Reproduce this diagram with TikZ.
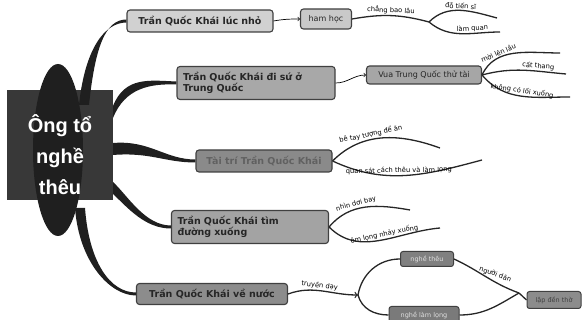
\documentclass[tikz,border=0pt]{standalone}
\usepackage{fontspec}
\setmainfont{DejaVu Sans}
\newfontfamily\titlefont{Liberation Sans}
\usetikzlibrary{positioning,calc,arrows}

% tapered main branch: start, control 1, control 2, end, half width at start, half width at end
\newcommand{\branch}[6]{%
  \fill[black!88] ($#1+#5$) .. controls ($#2+#5$) and ($#3+#6$) .. ($#4+#6$)
     -- ($#4-#6$) .. controls ($#3-#6$) and ($#2-#5$) .. ($#1-#5$) -- cycle;}

\begin{document}
\begin{tikzpicture}[x=1pt,y=1pt,>=to,
    main node/.style={draw=black!75,line width=1.1pt,rounded corners=3pt,font=\bfseries\fontsize{9.5}{11}\selectfont,text=black!85,inner xsep=6pt,minimum height=22pt,align=left},
    sub node/.style={draw=black!75,line width=1.1pt,rounded corners=3pt,font=\fontsize{8}{9}\selectfont,text=black!85,inner xsep=5pt,minimum height=19pt},
    leaf node/.style={draw=black!75,line width=1pt,rounded corners=2.5pt,font=\fontsize{6.5}{7}\selectfont,inner xsep=4pt,minimum height=15pt},
    twig/.style={draw=black!85,line width=1.3pt},
    lbl/.style={sloped,above,inner sep=1pt,font=\fontsize{6.7}{7}\selectfont,text=black}
  ]

  \useasboundingbox (0,0) rectangle (583,320);

  % centre
  \node[fill=black!78,minimum width=106pt,minimum height=110pt,inner sep=0pt] (c) at (60,175) {};
  \fill[black!88] (58,170) ellipse [x radius=25pt, y radius=86pt];

  % main topics
  \node[main node,fill=black!18,minimum width=146pt] (n1) at (200,299) {Trần Quốc Khái lúc nhỏ};
  \node[main node,fill=black!34,minimum height=33pt,text width=146pt] (n2) at (256,237) {Trần Quốc Khái đi sứ ở\\Trung Quốc};
  \node[main node,fill=black!46,text=black!62,minimum width=136pt] (n3) at (264,159) {Tài trí Trần Quốc Khái};
  \node[main node,fill=black!36,minimum height=33pt,text width=145pt] (n4) at (250,93) {Trần Quốc Khái tìm\\đường xuống};
  \node[main node,fill=black!45,minimum width=151pt,minimum height=21pt] (n5) at (212,26) {Trần Quốc Khái về nước};

  % sub topics
  \node[sub node,fill=black!21,minimum width=51pt,minimum height=20pt] (hamhoc) at (326,301) {ham học};
  \node[sub node,fill=black!35,minimum width=115pt,minimum height=18pt] (vua) at (424,245) {Vua Trung Quốc thử tài};
  \node[leaf node,fill=black!50,text=black!12,minimum width=53pt] (ngheTheu) at (427,61) {nghề thêu};
  \node[leaf node,fill=black!52,text=black!12,minimum width=70pt,minimum height=17pt] (ngheLong) at (424,5) {nghề làm lọng};
  \node[leaf node,fill=black!45,text=black!75,minimum width=54pt,minimum height=17pt] (lapDen) at (554,20) {lập đền thờ};

  \coordinate (s1) at (429,298);
  \coordinate (tiensi) at (497,302);
  \coordinate (lamquan) at (500,288);
  \coordinate (lau) at (560,267);
  \coordinate (thang) at (566,246);
  \coordinate (loi) at (570,223);
  \coordinate (tay) at (440,172);
  \coordinate (quansat) at (482,160);
  \coordinate (doi) at (410,110);
  \coordinate (nhay) at (440,92);
  \coordinate (s5) at (358,25);
  \coordinate (s6) at (519,27);

  % thick branches
  \branch{(84,215)}{(90,272)}{(105,299)}{(n1.west)}{(5,0)}{(0,1.5)}
  \branch{(113,208)}{(125,238)}{(150,238)}{(n2.west)}{(0,6)}{(0,1.5)}
  \branch{(113,171)}{(150,174)}{(165,159)}{(n3.west)}{(0,6)}{(0,1.5)}
  \branch{(113,132)}{(128,118)}{(145,93)}{(n4.west)}{(0,6)}{(0,1.5)}
  \branch{(80,112)}{(84,58)}{(110,26)}{(n5.west)}{(5,0)}{(0,1.5)}

  \node[text=white,font=\titlefont\bfseries\fontsize{20}{31}\selectfont,align=center] (ctitle) at (60,165) {Ông tổ\\nghề\\thêu};

  \draw[->,line width=0.7pt] (n1.east) to[out=10,in=180] (hamhoc.west);
  \draw[->,line width=0.7pt] (n2.east) to[out=0,in=180] (vua.west);

  \path[twig]
    (hamhoc.east) edge[out=10,in=165] node[lbl] {chẳng bao lâu} (s1)
    (s1) edge[out=45,in=165] node[lbl,pos=0.5] {đỗ tiến sĩ} (tiensi)
    (s1) edge[out=-40,in=180] node[lbl,pos=0.65] {làm quan} (lamquan);

  \path[twig]
    (vua.east) edge[out=65,in=180] node[lbl,pos=0.32] {mời lên lầu} (lau)
    (vua.east) edge[out=15,in=175] node[lbl,pos=0.68] {cất thang} (thang)
    (vua.east) edge[out=-50,in=180] node[lbl,pos=0.5] {không có lối xuống} (loi);

  \path[twig]
    (n3.east) edge[out=45,in=160] node[lbl,pos=0.4] {bê tay tượng để ăn} (tay)
    (n3.east) edge[out=-25,in=195] node[lbl,pos=0.45] {quan sát cách thêu và làm lọng} (quansat);

  \path[twig]
    (n4.east) edge[out=50,in=170] node[lbl,pos=0.4] {nhìn dơi bay} (doi)
    (n4.east) edge[out=-45,in=185] node[lbl,pos=0.55] {ôm lọng nhảy xuống} (nhay);

  \draw[twig,->] (n5.east) to[out=20,in=180] node[lbl,pos=0.45] {truyền dạy} (s5);
  \path[twig]
    (s5) edge[out=80,in=180] (ngheTheu.west)
    (s5) edge[out=-75,in=180] (ngheLong.west)
    (ngheTheu.east) edge[out=-25,in=160] node[lbl,sloped=false,rotate=-20,pos=0.55,anchor=south west,xshift=-14pt,yshift=1pt] {người dân} (s6)
    (ngheLong.east) edge[out=0,in=210] (s6)
    (s6) edge (lapDen.west);
\end{tikzpicture}
\end{document}
